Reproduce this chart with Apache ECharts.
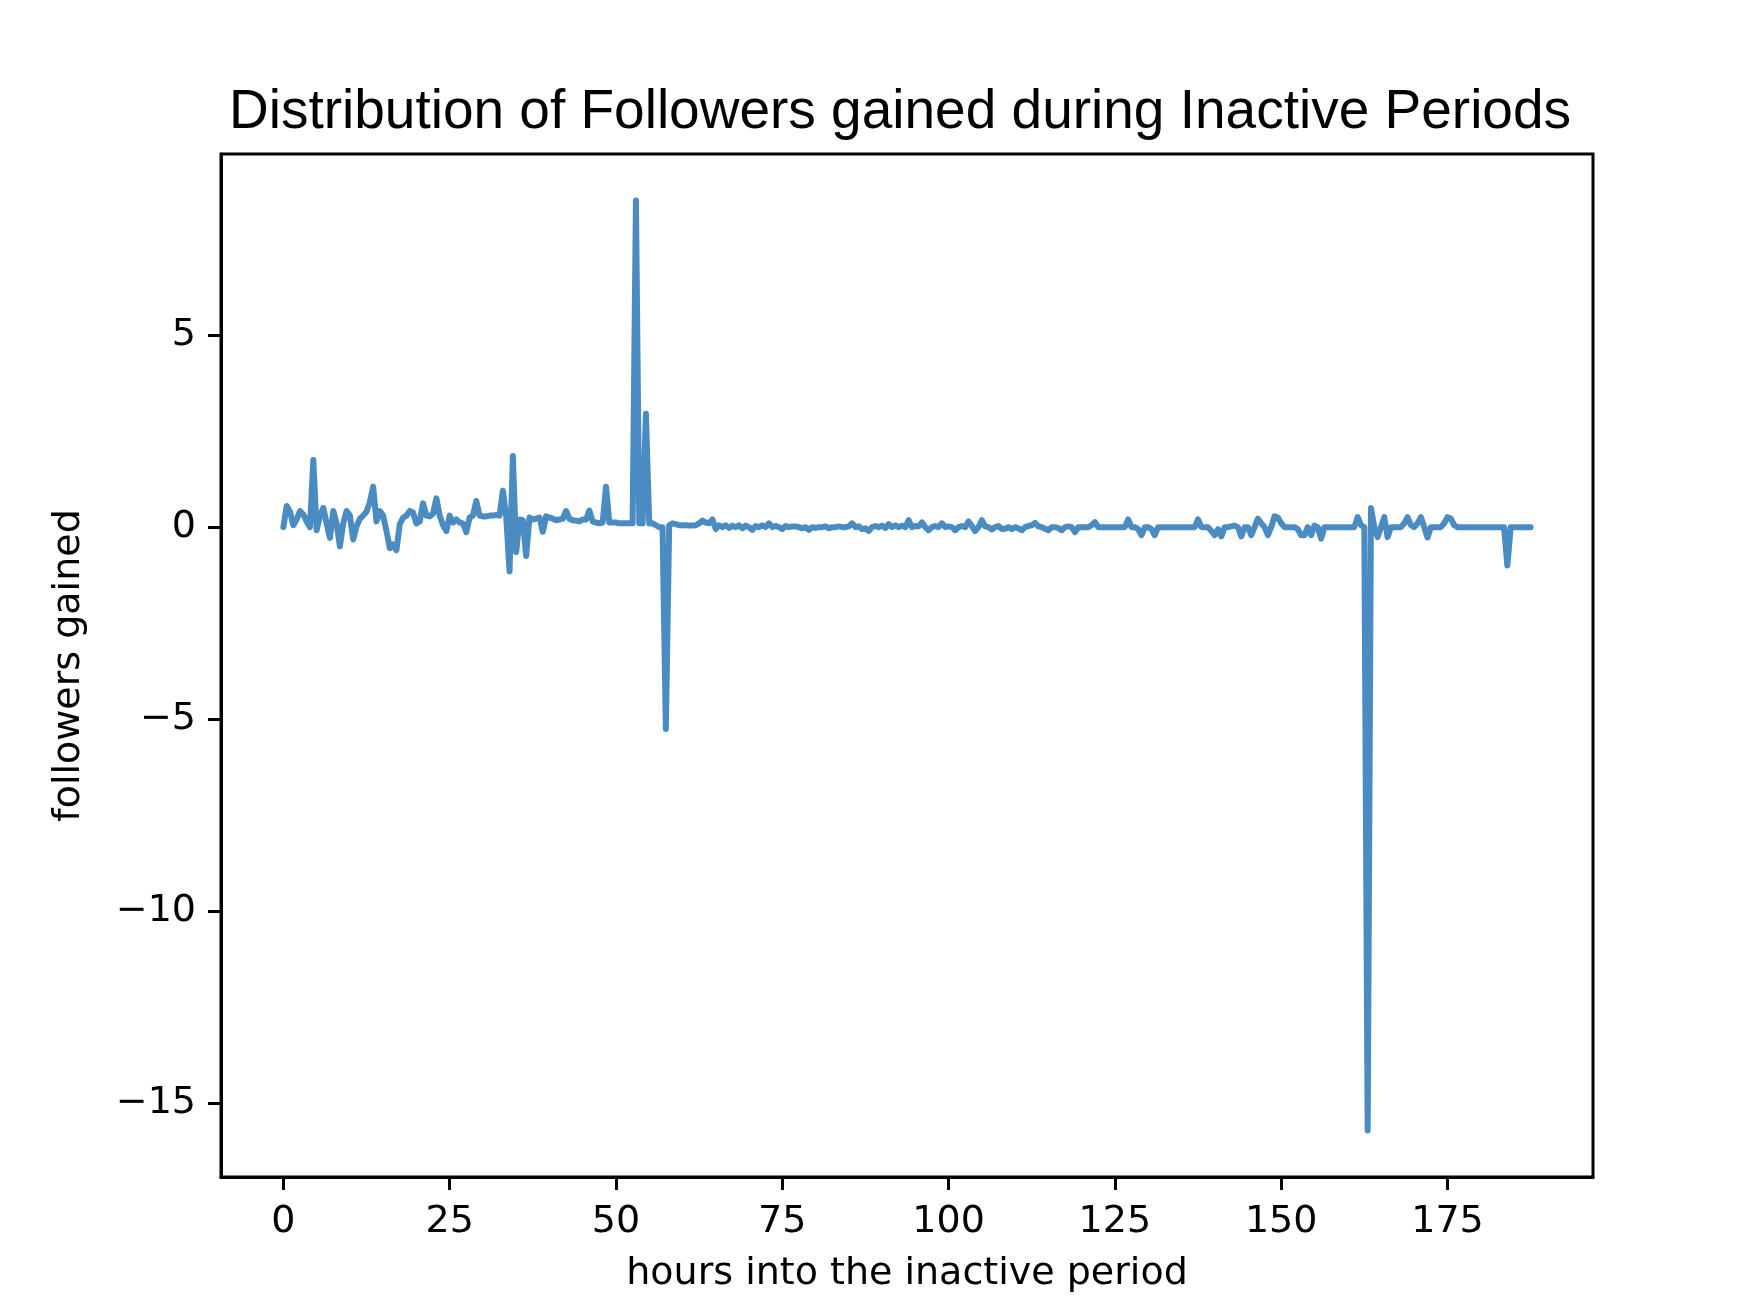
<!DOCTYPE html>
<html>
<head>
<meta charset="utf-8">
<title>Distribution of Followers gained during Inactive Periods</title>
<script src="https://cdn.jsdelivr.net/npm/echarts@6/dist/echarts.min.js"></script>
<style>
  html, body { margin: 0; padding: 0; background: #fff; }
  #chart { width: 1758px; height: 1308px; }
</style>
</head>
<body>
<div id="chart"></div>
<script>
const titleText = 'Distribution of Followers gained during Inactive Periods';
const xLabel = 'hours into the inactive period';
const yLabel = 'followers gained';

const xTicks = [0, 25, 50, 75, 100, 125, 150, 175];
const yTicks = [-15, -10, -5, 0, 5];

// hours into the inactive period (half-hour samples, flat stretches kept sparse)
const hours = [
  // 0 - 30
  0, 0.5, 1, 1.5, 2, 2.5, 3, 3.5, 4, 4.5,
  5, 5.5, 6, 6.5, 7, 7.5, 8, 8.5, 9, 9.5,
  10, 10.5, 11, 11.5, 12, 12.5, 13, 13.5, 14, 14.5,
  15, 15.5, 16, 16.5, 17, 17.5, 18, 18.5, 19, 19.5,
  20, 20.5, 21, 21.5, 22, 22.5, 23, 23.5, 24, 24.5,
  25, 25.5, 26, 26.5, 27, 27.5, 28, 28.5, 29, 29.5,
  30,
  // 30.5 - 60
  30.5, 31, 31.5, 32, 32.5, 33, 33.5, 34, 34.5, 35,
  35.5, 36, 36.5, 37, 37.5, 38, 38.5, 39, 39.5, 40,
  40.5, 41, 41.5, 42, 42.5, 43, 43.5, 44, 44.5, 45,
  45.5, 46, 46.5, 47, 47.5, 48, 48.5, 49, 49.5, 50,
  50.5, 51, 51.5, 52, 52.5, 53, 53.5, 54, 54.5, 55,
  55.5, 56, 56.5, 57, 57.5, 58, 58.5, 59, 59.5, 60,
  // 60.5 - 108
  60.5, 61, 61.5, 62, 62.5, 63, 63.5, 64, 64.5, 65,
  65.5, 66, 66.5, 67, 67.5, 68, 68.5, 69, 69.5, 70,
  70.5, 71, 71.5, 72, 72.5, 73, 73.5, 74, 74.5, 75,
  75.5, 76, 76.5, 77, 77.5, 78, 78.5, 79, 79.5, 80,
  80.5, 81, 81.5, 82, 82.5, 83, 83.5, 84, 84.5, 85,
  85.5, 86, 86.5, 87, 87.5, 88, 88.5, 89, 89.5, 90,
  90.5, 91, 91.5, 92, 92.5, 93, 93.5, 94, 94.5, 95,
  95.5, 96, 96.5, 97, 97.5, 98, 98.5, 99, 99.5, 100,
  100.5, 101, 101.5, 102, 102.5, 103, 103.5, 104, 104.5, 105,
  105.5, 106, 106.5, 107, 107.5, 108,
  // 108.5 - 123
  108.5, 109, 109.5, 110, 110.5, 111, 111.5, 112, 112.5, 113,
  113.5, 114, 114.5, 115, 115.5, 116, 116.5, 117, 117.5, 118,
  118.5, 119, 119.5, 120, 120.5, 121, 121.5, 122, 122.5, 123,
  // 126.5 - 138
  126.5, 127, 127.5, 128, 128.5, 129, 129.5, 130, 130.5, 131,
  131.5, 137, 137.5, 138,
  // 138.5 - 156.5
  138.5, 139, 139.5, 140, 140.5, 141, 141.5, 142, 142.5, 143,
  143.5, 144, 144.5, 145, 145.5, 146, 146.5, 147, 147.5, 148,
  148.5, 149, 149.5, 150, 150.5, 151, 151.5, 152, 152.5, 153,
  153.5, 154, 154.5, 155, 155.5, 156, 156.5,
  // 161 - 176.5
  161, 161.5, 162, 162.5, 163, 163.5, 164, 164.5, 165, 165.5,
  166, 166.5, 167, 167.5, 168, 168.5, 169, 169.5, 170, 170.5,
  171, 171.5, 172, 172.5, 173, 173.5, 174, 174.5, 175, 175.5,
  176, 176.5,
  // tail
  183.5, 184, 184.5, 187.5
];

const gained = [
  // 0 - 30
  0, 0.55, 0.4, 0.05, 0.2, 0.42, 0.33, 0.15, 0, 1.75,
  -0.08, 0.3, 0.5, 0.1, -0.28, 0.42, 0.1, -0.5, 0.1, 0.42,
  0.3, -0.32, 0.02, 0.22, 0.3, 0.4, 0.65, 1.05, 0.15, 0.42,
  0.3, -0.1, -0.55, -0.45, -0.6, 0.08, 0.25, 0.3, 0.42, 0.38,
  0.1, 0.15, 0.62, 0.3, 0.28, 0.35, 0.75, 0.3, 0.05, -0.1,
  0.3, 0.12, 0.2, 0.12, 0.1, -0.13, 0.25, 0.3, 0.68, 0.3,
  0.28,
  // 30.5 - 60
  0.28, 0.3, 0.3, 0.32, 0.3, 0.95, 0.28, -1.15, 1.85, -0.65,
  0.2, 0.18, -0.75, 0.25, 0.2, 0.22, 0.25, -0.12, 0.28, 0.25,
  0.22, 0.18, 0.2, 0.22, 0.42, 0.22, 0.18, 0.17, 0.15, 0.2,
  0.2, 0.43, 0.15, 0.12, 0.1, 0.12, 1.05, 0.12, 0.12, 0.12,
  0.1, 0.1, 0.1, 0.1, 0.1, 8.5, 0.1, 0.1, 2.95, 0.1,
  0.1, 0.05, 0, 0, -5.25, 0.05, 0.1, 0.08, 0.05, 0.05,
  // 60.5 - 108
  0.05, 0.04, 0.04, 0.05, 0.1, 0.17, 0.12, 0.1, 0.2, -0.05,
  0.05, 0, 0.05, -0.02, 0.04, 0, 0.05, -0.03, 0.04, 0,
  -0.07, 0.03, 0, 0.05, 0, 0.1, 0, 0.03, 0, -0.05,
  0.03, 0, 0.02, 0.02, 0, -0.03, 0, -0.07, 0, -0.02,
  0, 0, 0.02, -0.03, 0, 0, 0.02, 0, 0, 0.02,
  0.1, 0, 0.02, -0.05, -0.03, -0.1, 0, 0.03, 0, 0.04,
  -0.02, 0.08, 0, 0.05, 0, 0.04, 0, 0.18, 0, 0.03,
  0.02, 0.12, 0, -0.08, 0, 0.03, 0, 0.1, 0, 0.02,
  0, -0.08, 0, 0.03, 0, 0.15, 0.03, -0.1, 0, 0.18,
  0.02, 0, -0.06, 0, 0.03, -0.05,
  // 108.5 - 123
  -0.04, 0, -0.05, 0, -0.03, -0.08, 0, 0.03, 0.05, 0.11,
  0.02, 0, -0.04, -0.08, 0, 0, -0.02, -0.08, 0, 0.02,
  0, -0.13, 0, 0, 0, 0, 0.05, 0.13, 0, 0,
  // 126.5 - 138
  0, 0.2, 0, 0, -0.05, -0.21, 0, 0, -0.05, -0.21,
  0, 0, 0.2, 0,
  // 138.5 - 156.5
  0, 0, -0.1, -0.21, -0.05, -0.24, 0, 0, 0.02, 0.04,
  0, -0.24, 0, 0, -0.21, 0, 0.22, 0.1, 0, -0.21,
  0, 0.28, 0.25, 0.1, 0, 0, 0, 0, -0.05, -0.21,
  -0.21, 0, -0.21, 0.04, 0, -0.3, 0,
  // 161 - 176.5
  0, 0.26, 0.05, 0, -15.7, 0.5, 0, -0.26, 0, 0.26,
  -0.26, 0, 0, 0, 0, 0.1, 0.26, 0.05, 0, 0.1,
  0.26, 0, -0.27, 0, 0, 0, 0, 0.1, 0.26, 0.22,
  0.05, 0,
  // tail
  0, -1.0, 0, 0
];

const minusSign = v => String(v).replace('-', '\u2212');
const tickFont = { fontFamily: 'DejaVu Sans', fontSize: 38, color: '#000' };

const chart = echarts.init(document.getElementById('chart'));

chart.setOption({
  animation: false,
  backgroundColor: '#fff',
  graphic: [{
    type: 'text',
    x: 900,
    y: 113,
    style: {
      text: titleText,
      font: '55px "Liberation Sans", Arial, sans-serif',
      fill: '#000',
      textAlign: 'center',
      textVerticalAlign: 'middle'
    }
  }],
  grid: {
    left: 221,
    top: 154,
    width: 1372,
    height: 1023,
    show: true,
    borderColor: '#000',
    borderWidth: 3,
    backgroundColor: 'transparent'
  },
  xAxis: {
    type: 'value',
    min: -9.375,
    max: 196.875,
    name: xLabel,
    nameLocation: 'middle',
    nameGap: 78,
    nameTextStyle: tickFont,
    axisLine: { show: true, onZero: false, lineStyle: { color: '#000', width: 3 } },
    axisTick: { show: true, length: 13, customValues: xTicks, lineStyle: { color: '#000', width: 3 } },
    axisLabel: Object.assign({ customValues: xTicks, margin: 26, formatter: minusSign }, tickFont),
    splitLine: { show: false }
  },
  yAxis: {
    type: 'value',
    min: -16.91,
    max: 9.71,
    name: yLabel,
    nameLocation: 'middle',
    nameRotate: 90,
    nameGap: 133,
    nameTextStyle: tickFont,
    axisLine: { show: true, onZero: false, lineStyle: { color: '#000', width: 3 } },
    axisTick: { show: true, length: 13, customValues: yTicks, lineStyle: { color: '#000', width: 3 } },
    axisLabel: Object.assign({ customValues: yTicks, margin: 25, formatter: minusSign }, tickFont),
    splitLine: { show: false }
  },
  series: [{
    type: 'line',
    data: hours.map((h, i) => [h, gained[i]]),
    showSymbol: false,
    symbol: 'none',
    silent: true,
    lineStyle: { color: '#4a8cc2', width: 6, join: 'round', cap: 'round' }
  }]
});
</script>
</body>
</html>
